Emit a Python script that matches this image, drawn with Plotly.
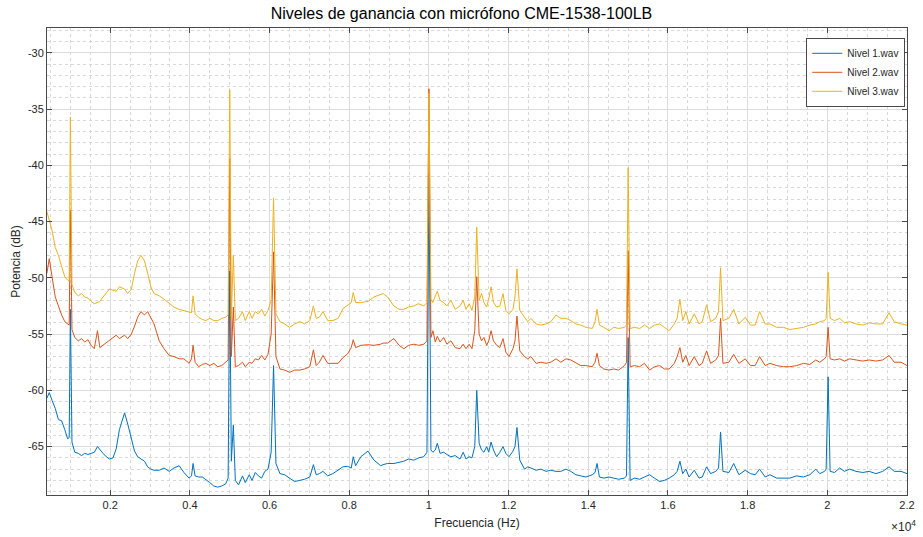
import plotly.graph_objects as go

# Frequency (Hz)
freq_hz = [
    410, 470, 540, 620, 700, 780, 860, 930, 970, 1000,
    1040, 1110, 1200, 1280, 1360, 1440, 1520, 1600, 1680, 1740,
    1820, 1900, 1980, 2070, 2150, 2230, 2310, 2360, 2440, 2530,
    2610, 2690, 2770, 2860, 2940, 3020, 3100, 3230, 3350, 3480,
    3600, 3730, 3850, 3980, 4040, 4080, 4130, 4220, 4310, 4400,
    4500, 4600, 4700, 4800, 4900, 4960, 5000, 5040, 5090, 5140,
    5220, 5320, 5390, 5490, 5560, 5640, 5720, 5800, 5880, 5960,
    6040, 6100, 6160, 6260, 6380, 6500, 6630, 6760, 6880, 7010,
    7100, 7170, 7250, 7340, 7460, 7590, 7720, 7840, 7960, 8050,
    8100, 8160, 8290, 8470, 8620, 8790, 8850, 8960, 9120, 9250,
    9370, 9490, 9620, 9740, 9870, 9950, 10000, 10050, 10100, 10160,
    10210, 10280, 10370, 10450, 10550, 10660, 10780, 10860, 10930, 11010,
    11080, 11150, 11200, 11260, 11320, 11380, 11450, 11500, 11560, 11620,
    11700, 11780, 11860, 11930, 12010, 12110, 12160, 12210, 12280, 12400,
    12480, 12560, 12690, 12810, 12940, 13060, 13190, 13310, 13440, 13560,
    13690, 13810, 13940, 14100, 14170, 14220, 14280, 14390, 14520, 14640,
    14760, 14910, 14960, 15000, 15050, 15160, 15290, 15410, 15540, 15660,
    15790, 15910, 16030, 16160, 16230, 16300, 16370, 16450, 16530, 16660,
    16780, 16860, 16970, 17070, 17200, 17270, 17320, 17380, 17530, 17650,
    17780, 17940, 18070, 18190, 18300, 18440, 18560, 18730, 18900, 19060,
    19230, 19400, 19560, 19710, 19810, 19930, 19970, 20020, 20070, 20180,
    20310, 20430, 20560, 20720, 20890, 21050, 21220, 21390, 21550, 21680,
    21850, 22000,
]

nivel1_db = [
    -60.7, -60.2, -60.9, -61.6, -62.6, -62.7, -63.5, -64.3, -64.2, -52.8,
    -64.6, -65.5, -65.6, -65.8, -65.6, -65.7, -65.6, -65.5, -65.0, -65.3,
    -65.6, -65.9, -66.1, -66.0, -65.2, -63.5, -62.5, -62.0, -63.0, -64.4,
    -65.4, -65.9, -66.1, -66.3, -66.8, -67.0, -67.1, -67.1, -66.9, -67.2,
    -66.9, -66.7, -67.3, -67.8, -67.6, -66.5, -67.6, -67.7, -67.7, -67.9,
    -68.2, -68.5, -68.6, -68.5, -68.3, -67.8, -49.4, -66.3, -63.1, -68.0,
    -68.4, -67.6, -68.2, -67.5, -68.0, -67.3, -67.6, -67.8, -67.2, -67.0,
    -65.5, -57.8, -66.5, -67.4, -67.5, -67.8, -68.1, -68.0, -67.9, -67.7,
    -66.6, -67.5, -67.4, -67.2, -67.6, -67.4, -67.1, -66.8, -66.75, -66.9,
    -65.9, -66.7, -65.9, -65.4, -66.2, -66.7, -66.6, -66.5, -66.5, -66.4,
    -66.3, -66.1, -66.2, -66.0, -65.9, -65.5, -40.7, -65.3, -65.5, -65.3,
    -64.7, -65.6, -65.5, -65.7, -65.9, -65.8, -66.1, -65.5, -66.1, -65.9,
    -66.0, -65.0, -60.0, -64.7, -65.3, -65.5, -65.0, -65.5, -64.6, -65.3,
    -65.9, -65.5, -65.0, -65.6, -65.9, -65.4, -65.0, -63.3, -66.2, -67.0,
    -66.8, -66.9, -67.1, -67.0, -67.2, -67.1, -67.2, -67.2, -67.0, -67.2,
    -67.5, -67.6, -67.7, -67.5, -67.3, -66.5, -67.7, -67.8, -67.7, -67.8,
    -67.9, -67.8, -67.6, -55.3, -68.0, -67.8, -67.9, -67.7, -67.5, -67.8,
    -68.1, -68.0, -67.8, -67.5, -67.2, -66.3, -67.4, -67.0, -67.7, -67.1,
    -67.8, -67.7, -66.8, -67.4, -67.2, -66.9, -63.7, -67.2, -67.3, -66.5,
    -67.5, -67.1, -67.4, -67.5, -67.0, -67.7, -67.5, -67.8, -67.8, -67.8,
    -67.6, -67.7, -67.5, -67.0, -67.4, -67.2, -67.0, -58.8, -67.2, -67.3,
    -66.9, -67.2, -67.0, -67.2, -67.3, -67.2, -67.4, -67.2, -66.8, -67.2,
    -67.2, -67.4,
]

nivel2_db = [
    -49.6, -48.3, -49.9, -51.7, -52.5, -53.3, -53.9, -54.1, -54.2, -44.0,
    -54.6, -55.3, -55.6, -55.4, -55.7, -55.5, -56.0, -56.3, -54.7, -56.2,
    -56.0, -55.8, -55.6, -55.3, -55.1, -55.4, -55.2, -55.1, -55.4, -55.0,
    -54.3, -53.5, -53.0, -53.3, -53.0, -53.5, -54.1, -55.6, -56.3, -56.9,
    -57.0, -57.2, -57.2, -57.6, -57.2, -56.0, -57.5, -57.9, -57.7, -57.6,
    -57.8, -57.6, -57.9, -57.8, -57.5, -57.3, -39.4, -57.0, -52.6, -57.9,
    -57.8, -57.5, -57.9, -57.5, -57.6, -57.2, -57.3, -56.9, -57.3, -56.8,
    -55.0, -47.7, -57.0, -58.1, -58.2, -58.4, -58.2, -58.2, -58.1, -57.9,
    -56.4, -57.8, -57.5, -56.9, -57.6, -57.6, -57.6, -57.1, -56.75, -56.2,
    -55.5, -56.2, -56.0, -55.95, -56.0, -55.9, -55.8, -55.8, -55.4, -56.0,
    -56.3, -56.0, -55.9, -56.0, -55.9, -55.6, -33.2, -55.3, -54.7, -55.7,
    -55.2, -55.7, -55.3, -55.9, -55.6, -56.2, -56.3, -55.9, -56.3, -55.9,
    -56.3, -54.7, -49.9, -55.0, -55.6, -55.3, -56.0, -55.6, -54.7, -55.6,
    -56.0, -56.2, -55.4, -56.6, -57.0, -56.3, -55.6, -53.4, -56.5, -57.0,
    -57.2, -57.0, -57.6, -57.5, -57.6, -57.5, -57.2, -57.5, -57.2, -57.3,
    -57.6, -57.8, -57.8, -57.9, -57.5, -56.7, -57.8, -58.1, -58.2, -58.1,
    -58.2, -57.8, -57.5, -47.6, -57.9, -57.8, -57.9, -57.6, -58.2, -57.9,
    -57.8, -58.1, -58.1, -57.6, -57.0, -56.2, -57.5, -56.9, -57.8, -57.0,
    -57.8, -57.6, -56.5, -57.6, -57.3, -56.9, -53.6, -57.6, -57.5, -56.8,
    -57.6, -57.2, -57.8, -57.8, -57.0, -57.8, -57.6, -57.8, -57.9, -57.9,
    -57.8, -57.6, -57.7, -57.3, -57.5, -57.2, -57.0, -54.4, -57.2, -57.3,
    -57.2, -57.4, -57.2, -57.3, -57.4, -57.3, -57.4, -57.3, -56.9, -57.5,
    -57.5, -57.8,
]

nivel3_db = [
    -44.1, -44.8, -45.8, -47.3, -48.0, -49.0, -49.9, -50.2, -50.3, -35.7,
    -50.6, -51.3, -51.6, -51.4, -51.7, -51.8, -52.1, -52.3, -52.2, -52.1,
    -51.7, -51.3, -51.0, -51.1, -51.2, -50.8, -50.9, -51.0, -51.4, -51.0,
    -49.6, -48.5, -48.0, -48.5, -49.6, -50.8, -51.4, -51.6, -51.9, -52.3,
    -52.6, -52.8, -52.9, -53.0, -53.1, -51.6, -53.2, -53.5, -53.7, -53.8,
    -53.6, -53.8, -53.8, -53.6, -53.5, -53.3, -33.3, -53.5, -48.0, -53.8,
    -53.6, -53.0, -53.8, -53.0, -53.6, -53.0, -53.2, -52.8, -53.4, -52.9,
    -52.0, -42.9, -53.2, -53.9, -54.1, -54.4, -54.1, -53.9, -54.1, -53.8,
    -52.5, -53.6, -53.5, -53.0, -53.8, -53.8, -53.6, -52.75, -52.4, -52.2,
    -51.3, -52.2, -52.2, -52.1, -51.7, -51.5, -51.4, -51.7, -52.5, -52.8,
    -52.8, -52.6, -52.5, -52.3, -52.5, -52.2, -33.6, -51.9, -52.2, -51.6,
    -51.2, -52.0, -52.2, -52.5, -52.0, -52.8, -52.5, -52.0, -52.8, -52.3,
    -52.9, -51.7, -45.5, -52.0, -51.4, -52.2, -52.6, -51.9, -50.8, -52.2,
    -52.6, -52.5, -51.4, -52.9, -53.2, -52.8, -51.7, -49.2, -52.9, -53.5,
    -53.9, -53.6, -54.1, -54.2, -54.1, -53.9, -53.3, -53.6, -53.6, -53.8,
    -54.1, -54.2, -54.4, -54.5, -53.9, -52.8, -54.2, -54.4, -54.7, -54.4,
    -54.5, -54.4, -54.2, -40.2, -54.5, -54.4, -54.5, -54.2, -54.5, -54.2,
    -54.1, -54.4, -54.7, -54.1, -53.6, -51.9, -53.8, -53.0, -54.1, -53.2,
    -54.1, -53.9, -52.4, -53.9, -53.6, -53.0, -49.1, -53.8, -53.6, -52.8,
    -54.1, -53.5, -54.2, -54.2, -53.0, -54.1, -54.1, -54.4, -54.4, -54.6,
    -54.5, -54.4, -54.2, -54.1, -53.9, -53.8, -53.6, -49.5, -53.6, -53.8,
    -53.6, -54.0, -53.9, -54.1, -54.2, -54.0, -54.1, -54.1, -53.1, -53.9,
    -54.1, -54.2,
]

series_names = ["Nivel 1.wav", "Nivel 2.wav", "Nivel 3.wav"]
series_colors = ["#0072BD", "#D95319", "#EDB120"]

x_tick_vals = [2000, 4000, 6000, 8000, 10000, 12000, 14000, 16000, 18000, 20000, 22000]
x_tick_text = ["0.2", "0.4", "0.6", "0.8", "1", "1.2", "1.4", "1.6", "1.8", "2", "2.2"]
y_tick_vals = [-65, -60, -55, -50, -45, -40, -35, -30]
y_tick_text = ["-65", "-60", "-55", "-50", "-45", "-40", "-35", "-30"]

FONT = "Liberation Sans, Arial, Helvetica, sans-serif"
AXIS_COLOR = "#4a4a4a"
TEXT_COLOR = "#262626"

fig = go.Figure()
for name, color, vals in zip(series_names, series_colors, [nivel1_db, nivel2_db, nivel3_db]):
    fig.add_trace(go.Scatter(
        x=freq_hz, y=vals, mode="lines", name=name,
        line=dict(color=color, width=1),
    ))

axis_common = dict(
    showline=True, linecolor=AXIS_COLOR, linewidth=1, mirror="ticks",
    ticks="inside", ticklen=5, tickcolor=AXIS_COLOR, tickwidth=1,
    showgrid=True, gridcolor="#dcdcdc", gridwidth=1,
    zeroline=False,
    tickfont=dict(family=FONT, size=11, color=TEXT_COLOR),
)

fig.update_layout(
    width=923, height=537,
    margin=dict(l=47, r=8, t=28, b=42),
    paper_bgcolor="white", plot_bgcolor="white",
    font=dict(family=FONT, color=TEXT_COLOR),
    title=dict(
        text="Niveles de ganancia con micrófono CME-1538-100LB",
        x=0.5, xref="container", xanchor="center",
        y=1 - 13 / 537, yref="container", yanchor="middle",
        font=dict(family=FONT, size=16, color="#000000"),
    ),
    xaxis=dict(
        range=[413, 22000],
        tickmode="array", tickvals=x_tick_vals, ticktext=x_tick_text,
        minor=dict(tick0=0, dtick=500, showgrid=True, griddash="dot",
                   gridcolor="#d8d8d8", gridwidth=1, ticks=""),
        title=dict(text="Frecuencia (Hz)", standoff=8,
                   font=dict(family=FONT, size=12, color=TEXT_COLOR)),
        **axis_common,
    ),
    yaxis=dict(
        range=[-69.3, -27.8],
        tickmode="array", tickvals=y_tick_vals, ticktext=y_tick_text,
        minor=dict(tick0=0, dtick=1, showgrid=True, griddash="dot",
                   gridcolor="#d8d8d8", gridwidth=1, ticks=""),
        title=dict(text="Potencia (dB)", standoff=4,
                   font=dict(family=FONT, size=12, color=TEXT_COLOR)),
        **axis_common,
    ),
    legend=dict(
        x=0.998, xanchor="right", y=0.979, yanchor="top",
        bgcolor="white", bordercolor=AXIS_COLOR, borderwidth=1,
        font=dict(family=FONT, size=10, color=TEXT_COLOR),
        tracegroupgap=0, itemwidth=30,
    ),
    showlegend=True,
    annotations=[
        dict(text="×10<sup>4</sup>", xref="paper", yref="paper",
             x=(897 - 47) / 868, y=(495 - 526) / 467,
             xanchor="left", yanchor="middle", showarrow=False,
             font=dict(family=FONT, size=12, color=TEXT_COLOR)),
    ],
)

fig.write_html("out.html")
